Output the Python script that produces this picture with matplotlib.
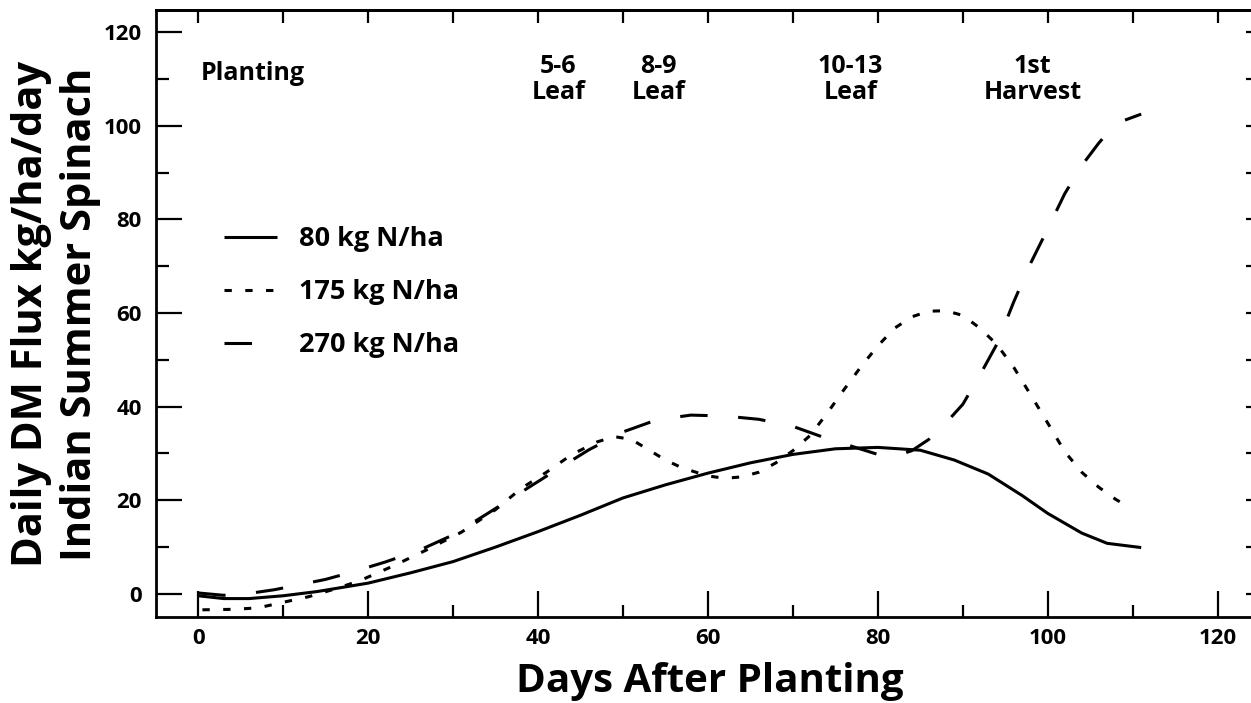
import matplotlib
matplotlib.use("Agg")
import matplotlib.pyplot as plt
from matplotlib.ticker import MultipleLocator

plt.rcParams['font.family'] = ['Open Sans', 'DejaVu Sans']
plt.rcParams['font.weight'] = 'bold'

# ---------------- data ----------------
days_80 = [0, 3, 6, 10, 14, 20, 25, 30, 35, 40, 45, 50, 55, 60, 65, 70, 75, 80,
           85, 89, 93, 97, 100, 104, 107, 111]
flux_80 = [-0.4, -1.0, -1.0, -0.4, 0.5, 2.3, 4.5, 6.9, 10.0, 13.3, 16.8, 20.5,
           23.3, 25.8, 28.0, 29.8, 31.0, 31.3, 30.7, 28.6, 25.6, 21.0, 17.2,
           13.0, 10.8, 9.9]

days_175 = [0.5, 4, 7, 10, 13, 16, 19, 23, 27, 31, 35, 38, 41, 44, 47, 49, 51,
            53, 55, 57, 60, 62, 64, 66, 68, 70, 72, 74, 76, 78, 80, 82, 84, 86,
            88, 90, 92, 94, 96, 98, 100, 102, 104, 106, 108, 109.5]
flux_175 = [-3.4, -3.3, -3.0, -1.8, -0.6, 1.0, 2.8, 6.0, 9.5, 13.2, 18.0, 22.5,
            26.0, 29.8, 32.5, 33.6, 33.0, 30.8, 28.6, 26.9, 25.2, 24.7, 25.0,
            26.0, 28.0, 30.6, 33.8, 38.5, 43.6, 48.5, 53.0, 56.8, 59.2, 60.4,
            60.5, 59.5, 56.8, 53.3, 48.4, 42.5, 36.5, 30.4, 26.0, 22.8, 20.2, 18.6]

days_270 = [0, 3, 6, 9, 12, 15, 18, 22, 26, 30, 34, 38, 42, 46, 50, 54, 58, 62,
            66, 70, 74, 77, 80, 82, 84, 86, 88, 90, 92, 94, 96, 98, 100, 102,
            104, 106, 108, 111]
flux_270 = [0.2, -0.3, 0.1, 0.9, 2.0, 3.1, 4.6, 6.8, 9.3, 12.6, 17.1, 21.7,
            26.3, 30.8, 34.6, 37.2, 38.2, 38.0, 37.3, 35.8, 33.2, 31.5, 29.8,
            29.4, 30.6, 33.0, 36.5, 40.5, 46.7, 53.3, 62.4, 70.7, 78.0, 85.5,
            91.5, 96.3, 100.5, 102.5]

series_labels = ['80 kg N/ha', '175 kg N/ha', '270 kg N/ha']

stage_x = [42.4, 54.2, 76.8, 98.2]
stage_labels = ['5-6\nLeaf', '8-9\nLeaf', '10-13\nLeaf', '1st\nHarvest']
planting_label = 'Planting'

x_ticks = [0, 20, 40, 60, 80, 100, 120]
y_ticks = [0, 20, 40, 60, 80, 100, 120]

# ---------------- figure ----------------
W, H = 1251, 703
fig = plt.figure(figsize=(W / 100, H / 100), dpi=100)
ax = fig.add_axes([155.7 / W, 1 - 617.3 / H, (1258 - 155.7) / W, (617.3 - 10) / H])
ax.set_xlim(-5, 124.75)
ax.set_ylim(-5, 124.75)

lw = 2.2
ax.plot(days_80, flux_80, color='black', lw=lw, solid_capstyle='butt',
        label=series_labels[0])
ax.plot(days_175, flux_175, color='black', lw=lw, dashes=(2.4, 4.4),
        dash_capstyle='butt', label=series_labels[1])
ax.plot(days_270, flux_270, color='black', lw=lw, dashes=(9, 10),
        dash_capstyle='butt', label=series_labels[2])

for s in ax.spines.values():
    s.set_linewidth(2.0)

ax.set_xticks(x_ticks)
ax.set_yticks(y_ticks)
ax.xaxis.set_minor_locator(MultipleLocator(10))
ax.yaxis.set_minor_locator(MultipleLocator(10))
ax.tick_params(which='major', direction='in', length=18.5, width=1.6,
               labelsize=16, pad=8)
ax.tick_params(which='minor', direction='in', length=9, width=1.6)
ax.tick_params(axis='y', which='major', pad=10)
ax.tick_params(top=False, right=False, which='both')

# top and right ticks: all short, every 10
sec_x = ax.secondary_xaxis('top')
sec_x.set_xticks(list(range(0, 121, 10)))
sec_x.tick_params(direction='in', length=9, width=1.6, labeltop=False)
sec_x.spines['top'].set_linewidth(2.0)
sec_y = ax.secondary_yaxis('right')
sec_y.set_yticks(list(range(0, 121, 10)))
sec_y.tick_params(direction='in', length=9, width=1.6, labelright=False)
sec_y.spines['right'].set_linewidth(2.0)

# annotations
ax.text(0.3, 109.8, planting_label, fontsize=18, ha='left', va='baseline')
for xs, lab in zip(stage_x, stage_labels):
    ax.text(xs, 110.0, lab, fontsize=18, ha='center', va='center',
            linespacing=1.05)

# legend
leg = ax.legend(loc='upper left', bbox_to_anchor=(224 / W, 1 - 226 / H),
                bbox_transform=fig.transFigure, frameon=False, fontsize=19.5,
                handlelength=1.96, handletextpad=0.8, labelspacing=1.0,
                borderpad=0, borderaxespad=0)

# axis labels
fig.text(709.5 / W, 1 - 692 / H, 'Days After Planting', fontsize=29,
         ha='center', va='baseline')
fig.text(56 / W, 1 - 314 / H, 'Daily DM Flux kg/ha/day\nIndian Summer Spinach',
         fontsize=30, rotation=90, ha='center', va='center',
         multialignment='center', linespacing=1.28)

fig.savefig('out.png', dpi=100)
